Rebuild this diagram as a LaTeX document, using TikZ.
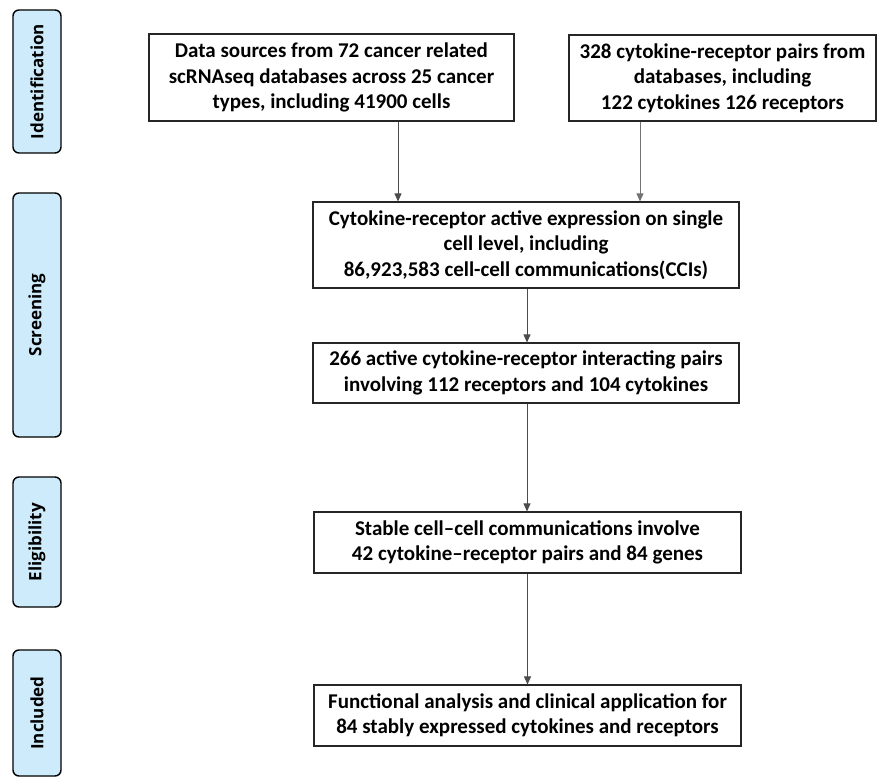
\documentclass[tikz,border=0pt]{standalone}
\usepackage{fontspec}
\setmainfont{Carlito}
\newfontfamily\sidefont{Open Sans}
\usetikzlibrary{arrows.meta}
\definecolor{sideblue}{HTML}{CDEBFB}
\begin{document}
\begin{tikzpicture}[x=1pt,y=-1pt,
  flowbox/.style={draw=black!85,line width=1.1pt,align=center,inner sep=0pt,
    font=\fontsize{21}{25.5}\selectfont\bfseries,text=black},
  sidebox/.style={draw=black,line width=1.4pt,fill=sideblue,rounded corners=6pt,
    minimum width=48pt,inner sep=0pt},
  sidetext/.style={rotate=90,font=\sidefont\fontsize{17}{19}\selectfont\bfseries,text=black},
  arr/.style={draw=black!70,line width=0.8pt,-{Triangle[width=7pt,length=8pt]}}]
\useasboundingbox (0,0) rectangle (878,778);
% side stage labels
\node[sidebox,minimum height=143pt] (sI) at (37,81.5) {};
\node[sidetext] (tI) at (sI.center) {Identification};
\node[sidebox,minimum height=244pt] (sS) at (37,315) {};
\node[sidetext] (tS) at (sS.center) {Screening};
\node[sidebox,minimum height=130pt] (sE) at (37,542) {};
\node[sidetext] (tE) at (sE.center) {Eligibility};
\node[sidebox,minimum height=126pt] (sC) at (37,713) {};
\node[sidetext] (tC) at (sC.center) {Included};
% flow boxes
\node[flowbox,minimum width=365pt,minimum height=87pt] (b1) at (331.5,77.5)
  {Data sources from 72 cancer related\\scRNAseq databases across 25 cancer\\types, including 41900 cells};
\node[flowbox,minimum width=307pt,minimum height=86pt] (b2) at (722.5,78)
  {328 cytokine-receptor pairs from\\databases, including\\122 cytokines 126 receptors};
\node[flowbox,minimum width=426pt,minimum height=86pt] (b3) at (526,245)
  {Cytokine-receptor active expression on single\\cell level, including\\86,923,583 cell-cell communications(CCIs)};
\node[flowbox,minimum width=426pt,minimum height=60pt] (b4) at (526,373)
  {266 active cytokine-receptor interacting pairs\\involving 112 receptors and 104 cytokines};
\node[flowbox,minimum width=427pt,minimum height=61pt] (b5) at (527.5,542.5)
  {Stable cell--cell communications involve\\42 cytokine--receptor pairs and 84 genes};
\node[flowbox,minimum width=427pt,minimum height=61pt] (b6) at (527.5,715.5)
  {Functional analysis and clinical application for\\84 stably expressed cytokines and receptors};
% connectors
\draw[arr] (b1.south -| 398,0) -- (b3.north -| 398,0);
\draw[arr,draw=black!55] (b2.south -| 640,0) -- (b3.north -| 640,0);
\draw[arr] (b3.south -| 527,0) -- (b4.north -| 527,0);
\draw[arr] (b4.south -| 527,0) -- (b5.north -| 527,0);
\draw[arr] (b5.south) -- (b6.north);
\end{tikzpicture}
\end{document}
